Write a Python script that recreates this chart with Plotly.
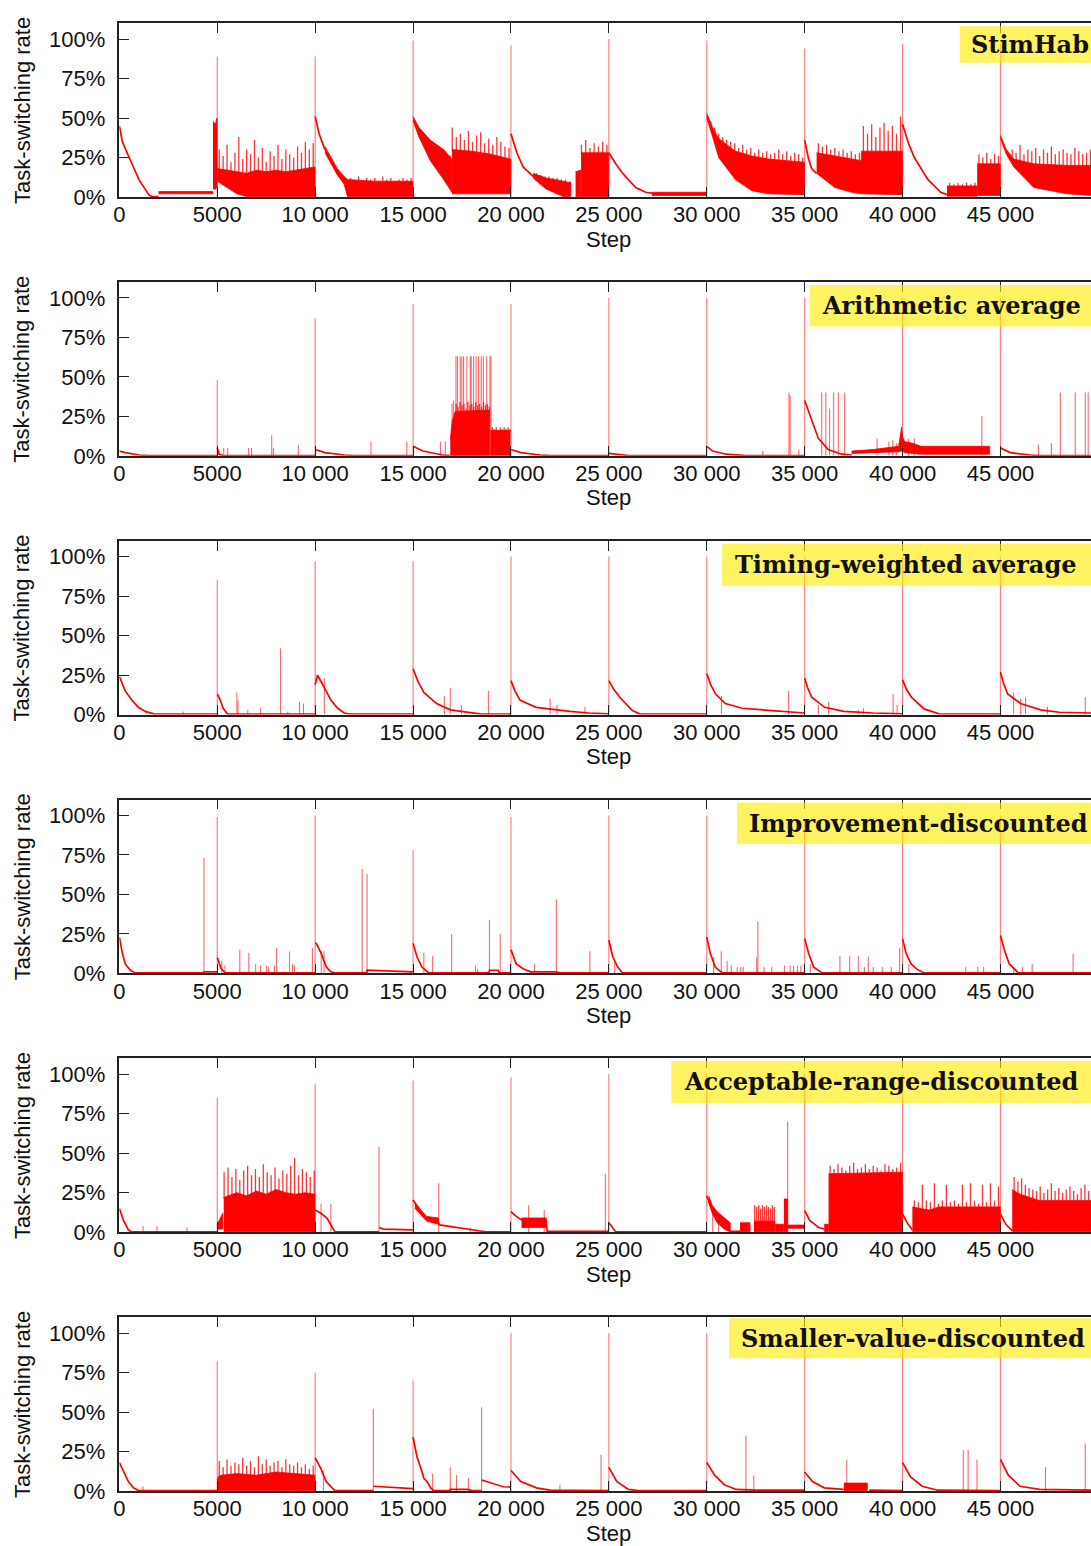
import numpy as np
import plotly.graph_objects as go

# ---------------- data ----------------
TITLES = ["StimHab", "Arithmetic average", "Timing-weighted average",
          "Improvement-discounted", "Acceptable-range-discounted",
          "Smaller-value-discounted"]
TICK_VALS = [0, 5000, 10000, 15000, 20000, 25000, 30000, 35000, 40000, 45000]
TICK_TEXT = ["0", "5000", "10 000", "15 000", "20 000", "25 000", "30 000",
             "35 000", "40 000", "45 000"]
Y_TICKS = [0, 25, 50, 75, 100]
Y_TEXT = ["0%", "25%", "50%", "75%", "100%"]
RESET_X = [5000, 10000, 15000, 20000, 25000, 30000, 35000, 40000, 45000]
X_END = 49624

# tall spikes at each task reset
p1_tall = [89, 89, 99, 96, 100, 99, 94, 97, 97]
p2_tall = [48, 87, 96, 96, 100, 100, 100, 100, 100]
p3_tall = [85, 97, 97, 100, 100, 100, 100, 100, 100]
p4_tall = [99, 100, 78, 99, 100, 100, 97, 100, 100]
p5_tall = [85, 94, 96, 98, 100, 100, 100, 100, 100]
p6_tall = [82, 75, 70, 100, 100, 100, 100, 100, 100]

# smooth curves (step, rate %)
p1_lines = [
    [(0, 45), (150, 35), (500, 25), (1000, 11), (1500, 1.5), (1650, 0.3), (2000, 0.3)],
    [(10000, 51), (10200, 40), (10500, 30)],
    [(20000, 40), (20300, 28), (20620, 19), (21130, 13)],
    [(25000, 28), (25350, 21), (25700, 15), (26370, 6), (26880, 3), (27200, 2.5)],
    [(35000, 36), (35200, 24), (35360, 18), (35600, 15)],
    [(40000, 46), (40300, 34), (40600, 25), (41300, 11), (41950, 3), (42270, 1.5)],
]
p2_lines = [
    [(0, 3), (300, 2), (1000, 0.5), (1500, 0.2), (4990, 0.2)],
    [(5000, 5), (5100, 1), (5300, 0.2), (9990, 0.2)],
    [(10000, 4), (10500, 2), (11500, 0.5), (12000, 0.2), (14990, 0.2)],
    [(15000, 6), (15500, 3), (16500, 0.5), (16900, 0.2)],
    [(20000, 4), (20500, 2), (21500, 0.5), (22000, 0.2), (24990, 0.2)],
    [(25000, 1.5), (26000, 0.2), (29990, 0.2)],
    [(30000, 6), (30300, 3), (31000, 1), (32000, 0.2), (34990, 0.2)],
    [(35000, 35), (35360, 23), (35700, 11), (36200, 4), (36880, 1), (37400, 0.5)],
    [(45000, 5), (45500, 2), (46500, 0.5), (47000, 0.2), (49624, 0.2)],
]
p3_lines = [
    [(0, 24), (300, 15), (650, 9), (970, 4.6), (1320, 2), (1800, 0.3), (4990, 0.3)],
    [(5000, 13), (5130, 10), (5300, 4), (5530, 0.3), (9990, 0.3)],
    [(10000, 19), (10120, 25), (10470, 17), (10810, 9), (11150, 4), (11480, 1), (11800, 0.3), (14990, 0.3)],
    [(15000, 29), (15250, 21), (15550, 14), (16200, 7), (16900, 3), (17900, 1.5), (18500, 0.3), (19990, 0.3)],
    [(20000, 21.5), (20200, 15), (20470, 9), (21290, 4.6), (23010, 2), (24000, 1), (24990, 0.5)],
    [(25000, 21.5), (25250, 16), (25560, 11), (26200, 2.5), (26600, 0.3), (29990, 0.3)],
    [(30000, 26), (30200, 19), (30450, 13), (30950, 7), (31800, 4), (34200, 1.5), (34990, 1)],
    [(35000, 23), (35150, 17), (35360, 11), (36020, 4.6), (37000, 2), (38500, 1), (39990, 0.5)],
    [(40000, 22), (40200, 16), (40450, 11), (41100, 3.6), (41900, 0.3), (44990, 0.3)],
    [(45000, 27), (45150, 20), (45370, 13), (46030, 7), (47050, 3), (48000, 1.5), (49624, 1)],
]
p4_lines = [
    [(0, 23), (150, 13), (300, 6), (560, 2), (810, 0.3), (4300, 0.3), (4320, 1), (4990, 1)],
    [(5000, 10), (5200, 3), (5400, 0.3), (9990, 0.3)],
    [(10000, 19), (10060, 19), (10310, 12.6), (10570, 4), (10800, 1), (11000, 0.3), (12640, 0.3), (12650, 2), (14990, 1)],
    [(15000, 19), (15200, 10.5), (15450, 4), (15800, 0.3), (18880, 0.3), (18900, 2), (19350, 2), (19400, 0.3), (19990, 0.3)],
    [(20000, 15), (20270, 6), (20620, 3), (21000, 1), (22300, 1), (22500, 0.3), (24990, 0.3)],
    [(25000, 21), (25200, 10.5), (25450, 4), (25700, 0.3), (29990, 0.3)],
    [(30000, 23), (30180, 12.7), (30430, 4), (30790, 0.3), (34990, 0.3)],
    [(35000, 22), (35200, 12.7), (35460, 4), (35900, 0.3), (39990, 0.3)],
    [(40000, 22), (40180, 12.7), (40440, 6), (40690, 3), (41100, 0.3), (44990, 0.3)],
    [(45000, 24), (45200, 14.8), (45450, 6), (45900, 0.5), (47000, 0.3), (49624, 0.3)],
]
p5_lines = [
    [(0, 15), (200, 7.8), (460, 1.5), (600, 0.3), (4990, 0.3)],
    [(10000, 14), (10300, 12), (10600, 9), (10880, 3), (11000, 0.3), (13250, 0.3)],
    [(13260, 3), (13500, 2), (14990, 1.5)],
    [(15000, 20.5), (15400, 12), (15700, 8), (16300, 6), (16350, 4.6), (17920, 1.5), (18700, 0.3), (19990, 0.3)],
    [(20000, 13), (20270, 10), (20540, 7.8), (21800, 7), (21850, 0.5), (24990, 0.5)],
    [(25000, 6), (25350, 0.3), (29990, 0.3)],
    [(30000, 23), (30280, 13.7), (30530, 7.4), (30890, 3), (31200, 0.5), (31700, 0.5)],
    [(35000, 13.7), (35260, 7.4), (35710, 3), (36000, 2)],
    [(40000, 11.6), (40280, 5), (40500, 1.5)],
    [(45000, 11.6), (45270, 5), (45600, 1)],
]
p6_lines = [
    [(0, 18), (200, 13), (460, 6), (720, 2), (970, 0.3), (4990, 0.3)],
    [(10000, 21), (10300, 14), (10560, 6), (10880, 1.7), (11000, 0.3), (12960, 0.3)],
    [(12970, 3), (14990, 1.5)],
    [(15000, 34), (15200, 21.7), (15460, 12), (15550, 8), (15710, 6), (15900, 2), (16050, 0.3),
     (16880, 0.3), (16900, 1), (17800, 1), (18000, 0.3), (18490, 0.3)],
    [(18500, 7), (19600, 2.7), (19990, 2.5)],
    [(20000, 13), (20500, 6), (21300, 2), (22000, 0.5), (24990, 0.3)],
    [(25000, 15), (25400, 6), (26000, 1), (26500, 0.3), (29990, 0.3)],
    [(30000, 18), (30400, 10), (30900, 4), (31500, 1), (32500, 0.5), (34990, 0.5)],
    [(35000, 12), (35400, 6), (36000, 2), (36800, 1), (36990, 1)],
    [(38300, 0.5), (39990, 0.3)],
    [(40000, 18), (40400, 9), (41000, 3), (41800, 0.5), (44990, 0.3)],
    [(45000, 20), (45400, 10), (46000, 3), (47000, 1), (49624, 0.5)],
]

# dense, rapidly oscillating stretches that read as solid areas: (step, low %, high %)
p1_fills = [
    [(2000, 2, 3.5), (4780, 2, 3.5)],
    [(4780, 5, 48), (4900, 5, 46), (4990, 6, 50)],
    [(5000, 10, 18), (5500, 6, 17), (6000, 2, 16), (6500, 0.3, 15), (7000, 0.3, 17), (7500, 0.3, 16),
     (8000, 0.3, 17), (8500, 0.3, 16), (9000, 0.3, 17), (9500, 0.3, 18), (9990, 0.3, 19)],
    [(10500, 28, 32), (11130, 14, 18), (11480, 8, 13), (11650, 0.3, 11), (13000, 0.3, 10), (14990, 0.3, 10)],
    [(15000, 48, 51), (15300, 38, 44), (15880, 23, 36), (16560, 11, 30), (16980, 3, 24)],
    [(16990, 2, 30), (18000, 2, 29), (19000, 2, 27), (19990, 2, 24)],
    [(21130, 12, 15), (21800, 5, 12), (22660, 0.3, 10), (23060, 0.3, 9)],
    [(23300, 0.3, 16), (23570, 0.3, 17)],
    [(23580, 0.3, 28), (24990, 0.3, 28)],
    [(27200, 1, 3), (29990, 1, 3)],
    [(30000, 50, 53), (30300, 38, 44), (30610, 25, 37), (31460, 11, 29), (32300, 4, 26), (33150, 2, 24),
     (34990, 1.5, 22)],
    [(35610, 15, 28), (36540, 6, 26), (37390, 3, 24), (37900, 2, 23), (37910, 2, 29), (39990, 1.5, 29)],
    [(42270, 0.5, 7), (43800, 0.5, 7)],
    [(43810, 1, 21), (44990, 1, 21)],
    [(45000, 37, 39), (45300, 27, 30), (45680, 19, 24), (46700, 6, 21), (48400, 2, 20), (49624, 1, 20)],
]
p2_fills = [
    [(16900, 0.2, 10), (17000, 0.2, 22), (17150, 0.2, 28), (18900, 0.2, 29)],
    [(18950, 0.2, 16), (19950, 0.2, 16)],
    [(37400, 1.5, 3), (38500, 2, 4), (39800, 2.5, 6)],
    [(39800, 2.5, 6), (39950, 3, 18), (40000, 3, 12), (40100, 2, 9), (40500, 1.5, 8), (40950, 1, 6),
     (44450, 1, 6)],
]
p3_fills = []
p4_fills = []
p5_fills = [
    [(5000, 2, 5), (5280, 2, 12)],
    [(5330, 0.3, 22), (6000, 0.3, 25), (6500, 0.3, 23), (7000, 0.3, 26), (7500, 0.3, 24), (8000, 0.3, 27),
     (8500, 0.3, 25), (9000, 0.3, 24), (9500, 0.3, 25), (9990, 0.3, 24)],
    [(15100, 15, 19), (15400, 11, 14), (15700, 7, 10), (16300, 5, 9)],
    [(20540, 3, 9), (21800, 3, 9)],
    [(30100, 19, 23), (30280, 12, 17), (30530, 6, 13), (30890, 2, 9), (31200, 0.3, 6)],
    [(31700, 0.3, 6), (32210, 0.3, 6)],
    [(32410, 0.3, 7), (33480, 0.3, 7)],
    [(33490, 0.3, 5), (33930, 0.3, 5)],
    [(33940, 0.3, 21), (34130, 0.3, 21)],
    [(34140, 2.5, 4.5), (34990, 2.5, 4.5)],
    [(36000, 0.3, 5), (36210, 0.3, 5)],
    [(36220, 0.3, 37), (39990, 0.3, 38)],
    [(40500, 0.3, 16), (41360, 0.3, 14), (41860, 0.3, 16), (44990, 0.3, 16)],
    [(45600, 0.3, 27), (46000, 0.3, 24), (46500, 0.3, 22), (47000, 0.3, 20), (49624, 0.3, 20)],
]
p6_fills = [
    [(5000, 0.3, 7), (5050, 0.3, 9), (5200, 0.3, 10), (6000, 0.3, 11), (7000, 0.3, 10), (8000, 0.3, 12),
     (9000, 0.3, 11), (9990, 0.3, 10)],
    [(37000, 0.3, 5), (38200, 0.3, 5)],
]

# spiky tops of the dense stretches: (first step, last step) and spike heights spread evenly;
# each spike rises from the top of the solid area beneath it
p1_bands = [
    ((5100, 9900), [30, 26, 33, 22, 28, 38, 24, 30, 27, 36, 25, 31, 22, 29, 26, 33, 24, 30, 27, 25, 32, 28, 35, 30, 34]),
    ((11800, 14900), [12, 11, 13, 10, 12, 11, 12, 10, 13, 11, 12, 10, 11, 12, 11, 12]),
    ((15200, 16900), [46, 42, 39, 36, 34, 32, 30, 28, 26]),
    ((17000, 19900), [44, 38, 40, 36, 42, 35, 39, 41, 34, 37, 33, 38, 35, 32, 31]),
    ((21300, 23000), [15, 14, 13, 13, 12, 12, 11, 11, 10]),
    ((23600, 24900), [33, 36, 31, 34, 32, 35, 33]),
    ((30200, 34900), [48, 44, 40, 38, 36, 35, 34, 31, 33, 30, 31, 28, 30, 28, 29, 27, 28, 30, 27, 29, 26, 28, 27, 25]),
    ((35700, 37800), [34, 32, 33, 30, 31, 29, 30, 28, 29, 27, 28]),
    ((38000, 39900), [45, 40, 46, 38, 44, 47, 42, 45, 40, 51]),
    ((42400, 43700), [9, 8, 9, 8, 9, 8, 9]),
    ((43900, 44900), [27, 25, 28, 24, 27, 26]),
    ((45600, 49600), [30, 28, 33, 27, 30, 29, 31, 26, 30, 28, 32, 27, 29, 30, 28, 27, 31, 29, 27, 28, 30]),
]
p2_bands = [
    ((17200, 18900), [33, 31, 34, 32, 33, 30, 34, 32, 33, 31, 34, 32, 33, 31, 34, 32, 33, 31]),
    ((19050, 19950), [18, 17, 18, 16, 18, 17, 18, 17, 18, 17]),
]
p3_bands = []
p4_bands = []
p5_bands = [
    ((5350, 9950), [38, 41, 35, 40, 33, 39, 42, 36, 40, 35, 43, 38, 36, 41, 34, 39, 37, 42, 47, 36, 40, 38, 35, 39]),
    ((32450, 33450), [17, 16, 17, 15, 17, 16, 17, 16, 15, 17, 16]),
    ((36300, 39900), [42, 40, 43, 41, 39, 42, 44, 40, 41, 43, 40, 42, 41, 39, 43, 42, 40, 41, 44]),
    ((40600, 44900), [20, 19, 30, 20, 19, 31, 18, 20, 30, 19, 20, 18, 30, 19, 31, 20, 18, 30, 19, 31, 20, 29]),
    ((45700, 49500), [35, 32, 34, 30, 28, 27, 26, 29, 25, 27, 31, 26, 28, 25, 27, 29, 26, 24, 28, 30, 26]),
]
p6_bands = [
    ((5100, 9900), [19, 15, 20, 16, 18, 17, 21, 16, 19, 15, 22, 17, 20, 16, 18, 19, 15, 20, 17, 16, 18, 15, 17, 14, 16]),
]

# isolated spikes: (step, rate %)
p1_spikes = []
p2_spikes = [(5330, 5), (5530, 5), (6600, 5), (6750, 5), (7780, 13), (7870, 5), (9140, 7), (12850, 9),
             (14680, 9), (16400, 9), (16650, 9), (16990, 33), (17070, 35), (17190, 63), (17270, 63),
             (17410, 63), (17490, 63), (17580, 63), (17750, 63), (17920, 63), (17970, 63), (18090, 63),
             (18220, 63), (18340, 63), (18480, 63), (18590, 63), (18760, 63), (18930, 63), (18980, 63),
             (32860, 3), (34200, 40), (34260, 38), (34700, 4), (35870, 40), (36080, 40), (36270, 30),
             (36480, 40), (36720, 40), (37040, 40), (38700, 11), (39300, 9), (39500, 10), (39700, 8),
             (40300, 11), (40600, 11), (44050, 25), (46940, 7), (47600, 8), (48060, 40), (48820, 40),
             (49330, 40), (49480, 40)]
p3_spikes = [(1370, 2), (3250, 2), (6000, 14), (6060, 9), (6560, 3), (7210, 4), (8230, 42), (8600, 2),
             (9200, 8), (9400, 7), (10470, 23), (16600, 12), (16900, 17), (17470, 6), (18850, 15),
             (22000, 10), (22350, 6), (23780, 5), (30750, 12), (34180, 15), (35700, 6), (36220, 8),
             (37740, 3), (38000, 4), (39520, 13), (39720, 6), (45670, 14), (46030, 10), (46280, 11),
             (47400, 5), (49330, 11)]
p4_spikes = [(4320, 73), (5230, 8), (5390, 5), (6150, 15), (6610, 13), (6960, 6), (7210, 5), (7520, 5),
             (7620, 4), (7920, 5), (8030, 16), (8690, 14), (8840, 6), (8940, 5), (9860, 16), (10310, 14),
             (10450, 14), (12400, 66), (12650, 63), (15550, 13), (16000, 11), (16970, 25), (18190, 5),
             (18300, 3), (18900, 34), (19450, 25), (21200, 6), (22320, 47), (24030, 14), (25300, 7),
             (30350, 10), (30740, 14), (31040, 8), (31250, 5), (31560, 4), (31730, 4), (31860, 4),
             (32550, 10), (32610, 33), (32930, 4), (33320, 4), (33970, 5), (34260, 5), (34430, 5),
             (34630, 5), (34800, 5), (35290, 6), (36800, 11), (37300, 11), (37740, 11), (38050, 4),
             (38250, 10.5), (38500, 4), (38960, 4), (39420, 4), (39850, 16), (40320, 6), (43230, 4),
             (43840, 4), (44140, 4), (45680, 4), (46120, 4), (46620, 6), (48710, 12.5)]
p5_spikes = [(1210, 4), (1920, 4), (3450, 3), (10300, 18), (10800, 18), (13260, 54), (16310, 31),
             (17920, 3), (20900, 17), (21700, 14), (24820, 37), (30300, 16), (30600, 12), (34130, 70)]
p6_spikes = [(1200, 3), (10420, 13), (12970, 52), (16000, 11), (16900, 15), (17220, 10), (17830, 8),
             (18500, 53), (22500, 4), (24600, 23), (32000, 35), (32400, 10), (37150, 20), (43100, 26),
             (43350, 26), (43800, 20), (47300, 15), (49330, 30)]

PANELS = [
    (p1_lines, p1_fills, p1_bands, p1_spikes, p1_tall),
    (p2_lines, p2_fills, p2_bands, p2_spikes, p2_tall),
    (p3_lines, p3_fills, p3_bands, p3_spikes, p3_tall),
    (p4_lines, p4_fills, p4_bands, p4_spikes, p4_tall),
    (p5_lines, p5_fills, p5_bands, p5_spikes, p5_tall),
    (p6_lines, p6_fills, p6_bands, p6_spikes, p6_tall),
]

# ---------------- layout geometry ----------------
# positions below are in the reference's 1091x1546 frame, converted to paper fractions
RW, RH = 1091, 1546
W, H = 1091, 1559
PITCH = 258.8
X0_PX = 114
RED = "#ff0000"
FONT = "Liberation Sans, Arial, Helvetica, sans-serif"
SERIF = "DejaVu Serif, Liberation Serif, serif"
FS = 22

# legend-box extents (left px, top offset, bottom offset, text left px)
BOX = [(959, 3, 39.5, 968), (808, 3, 44.5, 818), (720, 3, 45, 731),
       (735, 3, 44.5, 745), (669, 2.5, 44.5, 680), (727, 1, 41, 737)]


def solid_top(x, fills):
    for poly in fills:
        px = [p[0] for p in poly]
        if px[0] <= x <= px[-1]:
            return float(np.interp(x, px, [p[2] for p in poly]))
    return 0.0


def vlines(xs, ys, bases=None):
    vx, vy = [], []
    for k, (x, y) in enumerate(zip(xs, ys)):
        b = 0 if bases is None else min(bases[k], y)
        vx += [x, x, None]
        vy += [b, y, None]
    return vx, vy


fig = go.Figure()
shapes, annotations = [], []

for i, (lines, fills, bands, spikes, tall) in enumerate(PANELS):
    n = "" if i == 0 else str(i + 1)
    xa, ya = "x" + n, "y" + n
    top_px = 23.2 + i * PITCH
    bot_px = 197 + i * PITCH
    common = dict(xaxis=xa, yaxis=ya, showlegend=False, hoverinfo="skip")

    for poly in fills:
        px = [p[0] for p in poly]
        lo = [p[1] for p in poly]
        hi = [p[2] for p in poly]
        fig.add_trace(go.Scatter(x=px + px[::-1], y=hi + lo[::-1], mode="lines",
                                 line=dict(color=RED, width=0.8), fill="toself",
                                 fillcolor=RED, **common))
    bx, by = [], []
    for (s0, s1), hs in bands:
        xs = np.linspace(s0, s1, len(hs)).tolist()
        bases = [max(solid_top(x, fills) - 1, 0) for x in xs]
        vx, vy = vlines(xs, hs, bases)
        bx += vx
        by += vy
    if bx:
        fig.add_trace(go.Scatter(x=bx, y=by, mode="lines",
                                 line=dict(color="rgba(255,0,0,0.8)", width=1.3), **common))
    lx, ly = [], []
    for seg in lines:
        lx += [p[0] for p in seg] + [None]
        ly += [p[1] for p in seg] + [None]
    fig.add_trace(go.Scatter(x=lx, y=ly, mode="lines", line=dict(color=RED, width=1.7), **common))
    if spikes:
        vx, vy = vlines([s[0] for s in spikes], [s[1] for s in spikes])
        fig.add_trace(go.Scatter(x=vx, y=vy, mode="lines",
                                 line=dict(color="rgba(255,0,0,0.6)", width=1.1), **common))
    vx, vy = vlines(RESET_X, tall)
    fig.add_trace(go.Scatter(x=vx, y=vy, mode="lines",
                             line=dict(color="rgba(255,0,0,0.5)", width=1.2), **common))

    dom_y = [1 - bot_px / RH, 1 - top_px / RH]
    fig.layout["xaxis" + n] = dict(
        domain=[X0_PX / RW, 1.0], range=[0, X_END], anchor=ya,
        tickmode="array", tickvals=TICK_VALS, ticktext=TICK_TEXT,
        ticks="inside", ticklen=10, tickwidth=1.2, tickcolor="#222",
        showline=True, linecolor="#222", linewidth=1.5, mirror="ticks",
        showgrid=False, zeroline=False, ticklabelstandoff=-3,
        tickfont=dict(family=FONT, size=FS, color="#111"))
    fig.layout["yaxis" + n] = dict(
        domain=dom_y, range=[0, 110], anchor=xa,
        tickmode="array", tickvals=Y_TICKS, ticktext=Y_TEXT,
        ticks="inside", ticklen=10, tickwidth=1.2, tickcolor="#222",
        showline=True, linecolor="#222", linewidth=1.5, mirror=False,
        showgrid=False, zeroline=False, ticklabelstandoff=8,
        tickfont=dict(family=FONT, size=FS, color="#111"))
    # right-hand ticks (frame edge lies just beyond the picture)
    fig.layout["yaxis" + str(6 + i + 1)] = dict(
        overlaying=ya, side="right", anchor=xa, range=[0, 110],
        tickmode="array", tickvals=Y_TICKS, showticklabels=False,
        ticks="inside", ticklen=4, tickwidth=1.2, tickcolor="#222",
        showline=False, showgrid=False, zeroline=False)

    bl, bt, bb, tl = BOX[i]
    shapes.append(dict(type="rect", xref="paper", yref="paper",
                       x0=bl / RW, x1=1.0, y0=1 - (top_px + bb) / RH, y1=1 - (top_px + bt) / RH,
                       fillcolor="rgba(255,236,0,0.62)", line=dict(width=0), layer="above"))
    annotations.append(dict(text="<b>" + TITLES[i] + "</b>", xref="paper", yref="paper",
                            x=tl / RW, y=1 - (top_px + (bt + bb) / 2) / RH,
                            xanchor="left", yanchor="middle", showarrow=False,
                            font=dict(family=SERIF, size=24, color="#111")))
    annotations.append(dict(text="Task-switching rate", xref="paper", yref="paper",
                            x=16 / RW, y=1 - (110 + i * PITCH) / RH, textangle=-90,
                            xanchor="center", yanchor="middle", showarrow=False,
                            font=dict(family=FONT, size=FS, color="#111")))
    annotations.append(dict(text="Step", xref="paper", yref="paper",
                            x=606 / RW, y=1 - (239 + i * PITCH) / RH,
                            xanchor="center", yanchor="middle", showarrow=False,
                            font=dict(family=FONT, size=FS, color="#111")))

fig.update_layout(width=W, height=H, margin=dict(l=0, r=0, t=0, b=0),
                  paper_bgcolor="white", plot_bgcolor="white",
                  shapes=shapes, annotations=annotations, showlegend=False)

fig.write_html("out.html")
